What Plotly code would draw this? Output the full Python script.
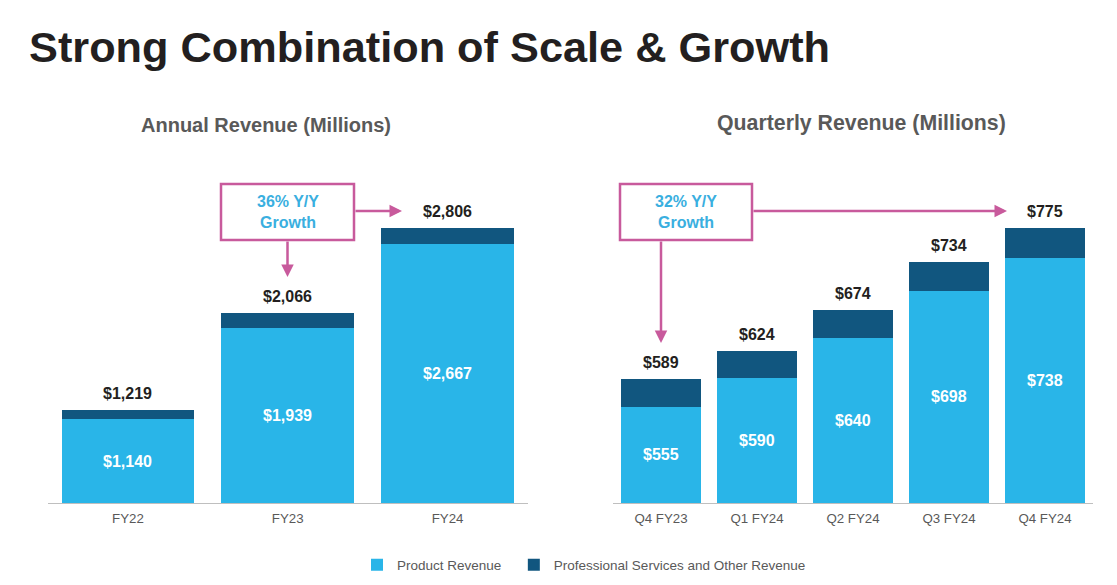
import plotly.graph_objects as go

# ---- data ----
annual_cats = ["FY22", "FY23", "FY24"]
annual_product = [1140, 1939, 2667]
annual_total = [1219, 2066, 2806]

quarter_cats = ["Q4 FY23", "Q1 FY24", "Q2 FY24", "Q3 FY24", "Q4 FY24"]
quarter_product = [555, 590, 640, 698, 738]
quarter_total = [589, 624, 674, 734, 775]

series_names = ["Product Revenue", "Professional Services and Other Revenue"]

annual_other = [t - p for t, p in zip(annual_total, annual_product)]
quarter_other = [t - p for t, p in zip(quarter_total, quarter_product)]

# page has an 8px body margin: figure is drawn from (8, 8)
OFF = 8
W, H = 1117 - OFF, 585 - OFF
LIGHT = "#29B5E8"
DARK = "#11567F"
PINK = "#C85A9C"
GRAY = "#595959"
INK = "#231F20"
FONT = "Liberation Sans, Arial, sans-serif"


def px(x):
    return (x - OFF) / W


def py(y):
    return 1 - (y - OFF) / H


left_scale = 0.1145
right_scale = 0.8102
left_min, right_min = 407, 436
plot_h = 503 - 150

fig = go.Figure()

# trailing non-breaking spaces only widen the first legend entry's spacing
legend_name_product = series_names[0] + "\u00a0\u00a0"

fig.add_trace(go.Bar(
    x=annual_cats, y=annual_product, name=legend_name_product,
    marker=dict(color=LIGHT, line=dict(width=0)),
    xaxis="x", yaxis="y", legendgroup="p", showlegend=True, hoverinfo="skip"))
fig.add_trace(go.Bar(
    x=annual_cats, y=annual_other, name=series_names[1],
    marker=dict(color=DARK, line=dict(width=0)),
    xaxis="x", yaxis="y", legendgroup="o", showlegend=True, hoverinfo="skip"))
fig.add_trace(go.Bar(
    x=quarter_cats, y=quarter_product, name=series_names[0],
    marker=dict(color=LIGHT, line=dict(width=0)),
    xaxis="x2", yaxis="y2", legendgroup="p", showlegend=False, hoverinfo="skip"))
fig.add_trace(go.Bar(
    x=quarter_cats, y=quarter_other, name=series_names[1],
    marker=dict(color=DARK, line=dict(width=0)),
    xaxis="x2", yaxis="y2", legendgroup="o", showlegend=False, hoverinfo="skip"))

annotations = []
total_font = dict(size=16, color=INK, family=FONT, weight="bold")
inner_font = dict(size=16, color="white", family=FONT, weight="bold")
for c, t, p in zip(annual_cats, annual_total, annual_product):
    annotations.append(dict(x=c, y=t, xref="x", yref="y", text=f"${t:,}",
                            showarrow=False, yanchor="bottom", yshift=6, font=total_font))
    annotations.append(dict(x=c, y=(left_min + p) / 2, xref="x", yref="y", text=f"${p:,}",
                            showarrow=False, yanchor="middle", font=inner_font))
for c, t, p in zip(quarter_cats, quarter_total, quarter_product):
    annotations.append(dict(x=c, y=t, xref="x2", yref="y2", text=f"${t:,}",
                            showarrow=False, yanchor="bottom", yshift=6, font=total_font))
    annotations.append(dict(x=c, y=(right_min + p) / 2, xref="x2", yref="y2", text=f"${p:,}",
                            showarrow=False, yanchor="middle", font=inner_font))

# titles
annotations.append(dict(x=px(27), y=py(47), xref="paper", yref="paper", xanchor="left",
                        yanchor="middle", showarrow=False,
                        text="<b>Strong Combination of Scale &amp; Growth</b>",
                        font=dict(size=43.3, color=INK, family=FONT)))
annotations.append(dict(x=px(266), y=py(125), xref="paper", yref="paper", xanchor="center",
                        yanchor="middle", showarrow=False,
                        text="<b>Annual Revenue (Millions)</b>",
                        font=dict(size=20, color=GRAY, family=FONT)))
annotations.append(dict(x=px(861), y=py(123), xref="paper", yref="paper", xanchor="center",
                        yanchor="middle", showarrow=False,
                        text="<b>Quarterly Revenue (Millions)</b>",
                        font=dict(size=21.3, color=GRAY, family=FONT)))

# callout texts
callout_font = dict(size=16, color="#3AAFE0", family=FONT)
annotations.append(dict(x=px(287.5), y=py(212), xref="paper", yref="paper", showarrow=False,
                        xanchor="center", yanchor="middle", align="center",
                        text="<b>36% Y/Y<br>Growth</b>", font=callout_font))
annotations.append(dict(x=px(686), y=py(212), xref="paper", yref="paper", showarrow=False,
                        xanchor="center", yanchor="middle", align="center",
                        text="<b>32% Y/Y<br>Growth</b>", font=callout_font))

# arrows (tip at x,y; tail offset ax, ay in px)
for tip, off in [((287.5, 277), (0, -37)), ((402, 211), (-48, 0)),
                 ((661, 343), (0, -103)), ((1007, 211), (-255, 0))]:
    annotations.append(dict(x=px(tip[0]), y=py(tip[1]), xref="paper", yref="paper",
                            ax=off[0], ay=off[1], text="", showarrow=True,
                            arrowhead=2, arrowsize=1, arrowwidth=2.5, arrowcolor=PINK,
                            standoff=0, startstandoff=0))

shapes = [
    dict(type="rect", xref="paper", yref="paper", x0=px(221), x1=px(354), y0=py(184), y1=py(240),
         line=dict(color=PINK, width=2.5), fillcolor="rgba(0,0,0,0)"),
    dict(type="rect", xref="paper", yref="paper", x0=px(620), x1=px(752), y0=py(184), y1=py(240),
         line=dict(color=PINK, width=2.5), fillcolor="rgba(0,0,0,0)"),
]

bottom = py(503)
top = py(150)

xaxis_common = dict(showgrid=False, zeroline=False, showline=True, linecolor="#BFBFBF",
                    linewidth=1, ticks="", ticklabelstandoff=3,
                    tickfont=dict(size=13.3, color=GRAY, family=FONT), fixedrange=True)
yaxis_common = dict(showgrid=False, zeroline=False, showline=False, showticklabels=False,
                    ticks="", fixedrange=True)

fig.update_layout(
    width=W, height=H,
    margin=dict(l=0, r=0, t=0, b=0),
    paper_bgcolor="white", plot_bgcolor="white",
    barmode="stack", bargap=0.17,
    font=dict(family=FONT, color=GRAY),
    xaxis=dict(domain=[px(48), px(527.5)], anchor="y", **xaxis_common),
    xaxis2=dict(domain=[px(613), px(1093)], anchor="y2", **xaxis_common),
    yaxis=dict(domain=[bottom, top], anchor="x",
               range=[left_min, left_min + plot_h / left_scale], **yaxis_common),
    yaxis2=dict(domain=[bottom, top], anchor="x2",
                range=[right_min, right_min + plot_h / right_scale], **yaxis_common),
    legend=dict(orientation="h", x=px(357), y=py(565), xanchor="left", yanchor="middle",
                font=dict(size=13.5, color=GRAY, family=FONT), bgcolor="rgba(0,0,0,0)",
                traceorder="normal"),
    annotations=annotations,
    shapes=shapes,
)

fig.write_html("out.html")
